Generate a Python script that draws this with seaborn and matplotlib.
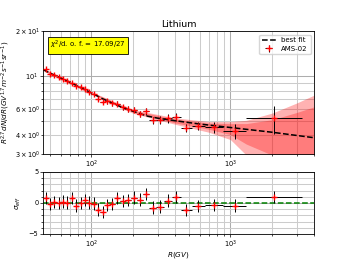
import numpy as np
import matplotlib
matplotlib.use("Agg")
import matplotlib.pyplot as plt
from matplotlib.ticker import MultipleLocator
import seaborn as sns

# AMS-02 lithium, rigidity bins (GV)
bin_edges = [45.1, 48.5, 52.2, 56.1, 60.3, 64.8, 69.7, 74.9, 80.5, 86.5, 93.0,
             100, 108, 116, 125, 135, 147, 160, 175, 192, 211, 233, 259, 291,
             330, 379, 441, 525, 660, 880, 1300, 3300]
rigidity = [46.8, 50.3, 54.1, 58.2, 62.5, 67.2, 72.3, 77.6, 83.5, 89.7, 96.5,
            104, 112, 120.5, 130, 141, 153.5, 167.5, 183.5, 201.5, 222, 246,
            275, 310, 354, 409, 482, 589, 764, 1070, 2070]
flux = [11.08, 10.38, 10.12, 9.84, 9.58, 9.32, 9.04, 8.59, 8.41, 8.20, 7.87,
        7.61, 7.04, 6.74, 6.77, 6.56, 6.54, 6.19, 6.03, 5.96, 5.58, 5.80,
        5.05, 5.05, 5.20, 5.33, 4.51, 4.64, 4.54, 4.28, 5.20]
flux_err = [0.33, 0.31, 0.30, 0.29, 0.29, 0.28, 0.27, 0.26, 0.25, 0.25, 0.24,
            0.24, 0.23, 0.23, 0.23, 0.23, 0.24, 0.24, 0.25, 0.26, 0.27, 0.29,
            0.29, 0.31, 0.33, 0.33, 0.28, 0.31, 0.36, 0.50, 1.10]
sigma_eff = [0.76, -0.21, 0.11, -0.05, 0.21, 0.05, 0.76, -0.43, -0.05, 0.43,
             0.05, -0.11, -1.08, -1.5, -0.38, -0.16, 0.76, 0.32, 0.43, 0.86,
             0.53, 1.4, -0.75, -0.6, 0.37, 0.97, -1.15, -0.45, -0.3, -0.43, 1.0]

# best fit curve and its uncertainty bands
fit_R = [45, 50, 60, 70, 80, 90, 100, 120, 140, 170, 200, 250, 300, 400, 600,
         1000, 2000, 4000]
fit_flux = [11.05, 10.5, 9.7, 9.1, 8.55, 8.1, 7.72, 7.05, 6.62, 6.1, 5.8, 5.4,
            5.22, 5.02, 4.77, 4.52, 4.2, 3.86]
band_R = [45, 100, 200, 400, 700, 1000, 1300, 2000, 3000, 4000]
outer_hi = [11.25, 7.85, 5.95, 5.25, 4.95, 4.95, 5.05, 5.65, 6.6, 7.45]
outer_lo = [10.85, 7.55, 5.62, 4.75, 4.2, 3.75, 2.95, 2.2, 1.7, 1.4]
inner_hi = [11.15, 7.8, 5.88, 5.15, 4.83, 4.8, 4.8, 5.1, 5.7, 6.22]
inner_lo = [10.95, 7.62, 5.7, 4.85, 4.4, 4.05, 3.5, 2.95, 2.4, 2.0]

edges = np.array(bin_edges)
R = np.array(rigidity)
xerr = [R - edges[:-1], edges[1:] - R]

plt.rcParams['mathtext.fontset'] = 'dejavusans'
fig = plt.figure(figsize=(3.49, 2.62), dpi=100)
ax1 = fig.add_axes([0.124, 0.412, 0.776, 0.469])
ax2 = fig.add_axes([0.124, 0.107, 0.776, 0.237])

for ax in (ax1, ax2):
  ax.set_xscale('log')
  ax.set_xlim(45, 4000)
  ax.tick_params(which='both', labelsize=4.8, width=0.5, pad=1)
  ax.tick_params(which='major', length=2.5)
  ax.tick_params(which='minor', length=1.3)
  ax.grid(True, which='minor', color='0.8', lw=0.75)
  ax.grid(True, which='major', color='0.68', lw=0.75)
  ax.set_axisbelow(True)
  for s in ax.spines.values():
    s.set_linewidth(0.6)

# top panel
ax1.set_yscale('log')
ax1.fill_between(band_R, outer_lo, outer_hi, color='red', alpha=0.3, lw=0)
ax1.fill_between(band_R, inner_lo, inner_hi, color='red', alpha=0.3, lw=0)
sns.lineplot(x=fit_R, y=fit_flux, ax=ax1, color='black', linestyle='--',
             lw=1.1, label='best fit')
ax1.errorbar(R, flux, yerr=flux_err, xerr=xerr, fmt='+', color='red',
             ecolor='black', elinewidth=0.7, markersize=4, mew=1.0,
             label='AMS-02', zorder=3)
ax1.set_ylim(3, 20)
ax1.set_title('Lithium', fontsize=6.8, pad=3)
ax1.set_ylabel(r'$R^{2.7}dN/dR(GV^{1.7}m^{-2}s^{-1}sr^{-1})$', fontsize=5.2,
               labelpad=2)
ax1.text(0.025, 0.935, r'$\chi^2$/d. o. f. = 17.09/27', transform=ax1.transAxes,
         fontsize=5, va='top', ha='left',
         bbox=dict(boxstyle='square,pad=0.35', facecolor='yellow',
                   edgecolor='black', lw=0.6))
ax1.legend(loc='upper right', fontsize=5, handlelength=2, borderpad=0.4,
           labelspacing=0.3, framealpha=0.8, edgecolor='0.8')

# residual panel
sns.lineplot(x=[45, 4000], y=[0, 0], ax=ax2, color='green', linestyle='--',
             lw=1.1)
ax2.errorbar(R, sigma_eff, yerr=1.0, xerr=xerr, fmt='+', color='red',
             ecolor='black', elinewidth=0.7, markersize=4, mew=1.0, zorder=3)
ax2.set_ylim(-5, 5)
ax2.set_yticks([-5, 0, 5])
ax2.yaxis.set_minor_locator(MultipleLocator(1))
ax2.set_ylabel(r'$\sigma_{eff}$', fontsize=5.2, labelpad=4)
ax2.set_xlabel(r'$R(GV)$', fontsize=5.2, labelpad=0)

fig.savefig('out.png', dpi=100)
